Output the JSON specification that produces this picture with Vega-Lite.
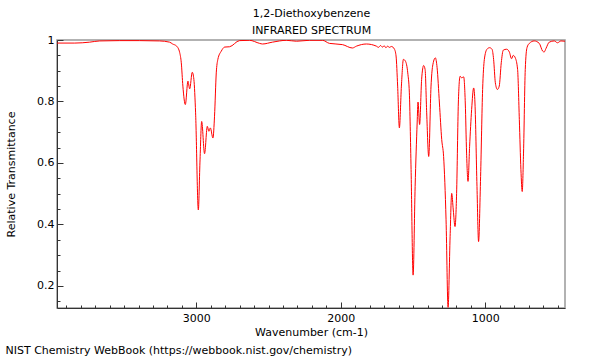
{
  "$schema": "https://vega.github.io/schema/vega-lite/v6.json",
  "width": 508,
  "height": 268,
  "autosize": {"type": "none"},
  "padding": {"left": 57, "top": 40, "right": 35, "bottom": 52},
  "background": "white",
  "title": {
    "text": "NIST Chemistry WebBook (https://webbook.nist.gov/chemistry)",
    "orient": "bottom",
    "anchor": "start",
    "frame": "bounds",
    "font": "DejaVu Sans",
    "fontSize": 11,
    "fontWeight": "normal",
    "color": "black",
    "offset": 8
  },
  "config": {
    "view": {"stroke": "#999999", "strokeWidth": 1.5},
    "axis": {"labelFont": "DejaVu Sans", "titleFont": "DejaVu Sans", "labelFontSize": 11, "titleFontSize": 11, "titleFontWeight": "normal", "labelColor": "black", "titleColor": "black", "grid": false, "domainColor": "#333333", "tickColor": "#333333"}
  },
  "data": {"values": [
    {"wn": 3964, "t": 0.990}, {"wn": 3841, "t": 0.990}, {"wn": 3738, "t": 0.993}, {"wn": 3668, "t": 0.997},
    {"wn": 3530, "t": 0.998}, {"wn": 3392, "t": 0.998}, {"wn": 3254, "t": 0.997}, {"wn": 3185, "t": 0.993},
    {"wn": 3164, "t": 0.987}, {"wn": 3136, "t": 0.980}, {"wn": 3115, "t": 0.959}, {"wn": 3104, "t": 0.926},
    {"wn": 3093, "t": 0.85}, {"wn": 3076, "t": 0.79}, {"wn": 3058, "t": 0.866}, {"wn": 3046, "t": 0.841},
    {"wn": 3028, "t": 0.895}, {"wn": 3017, "t": 0.872}, {"wn": 3005, "t": 0.763}, {"wn": 2986, "t": 0.447},
    {"wn": 2975, "t": 0.60}, {"wn": 2963, "t": 0.735}, {"wn": 2943, "t": 0.63}, {"wn": 2924, "t": 0.719},
    {"wn": 2913, "t": 0.703}, {"wn": 2903, "t": 0.714}, {"wn": 2885, "t": 0.681}, {"wn": 2874, "t": 0.752},
    {"wn": 2862, "t": 0.893}, {"wn": 2851, "t": 0.937}, {"wn": 2827, "t": 0.964}, {"wn": 2804, "t": 0.977},
    {"wn": 2770, "t": 0.978}, {"wn": 2701, "t": 0.998}, {"wn": 2632, "t": 0.999}, {"wn": 2562, "t": 0.989},
    {"wn": 2542, "t": 0.987}, {"wn": 2473, "t": 0.993}, {"wn": 2376, "t": 0.999}, {"wn": 2307, "t": 0.996},
    {"wn": 2217, "t": 0.999}, {"wn": 2127, "t": 0.999}, {"wn": 2079, "t": 0.989}, {"wn": 1989, "t": 0.985},
    {"wn": 1920, "t": 0.974}, {"wn": 1892, "t": 0.980}, {"wn": 1823, "t": 0.987}, {"wn": 1754, "t": 0.980},
    {"wn": 1740, "t": 0.976}, {"wn": 1725, "t": 0.982}, {"wn": 1712, "t": 0.977}, {"wn": 1700, "t": 0.981},
    {"wn": 1688, "t": 0.975}, {"wn": 1676, "t": 0.980}, {"wn": 1664, "t": 0.976}, {"wn": 1650, "t": 0.979},
    {"wn": 1629, "t": 0.970}, {"wn": 1618, "t": 0.948}, {"wn": 1607, "t": 0.85}, {"wn": 1595, "t": 0.714},
    {"wn": 1581, "t": 0.85}, {"wn": 1567, "t": 0.937}, {"wn": 1553, "t": 0.931}, {"wn": 1537, "t": 0.893},
    {"wn": 1526, "t": 0.828}, {"wn": 1514, "t": 0.579}, {"wn": 1500, "t": 0.235}, {"wn": 1486, "t": 0.523},
    {"wn": 1472, "t": 0.73}, {"wn": 1466, "t": 0.798}, {"wn": 1455, "t": 0.725}, {"wn": 1441, "t": 0.872},
    {"wn": 1427, "t": 0.917}, {"wn": 1417, "t": 0.904}, {"wn": 1406, "t": 0.763}, {"wn": 1392, "t": 0.621},
    {"wn": 1376, "t": 0.85}, {"wn": 1365, "t": 0.915}, {"wn": 1346, "t": 0.942}, {"wn": 1334, "t": 0.91},
    {"wn": 1318, "t": 0.795}, {"wn": 1302, "t": 0.676}, {"wn": 1289, "t": 0.621}, {"wn": 1272, "t": 0.415},
    {"wn": 1258, "t": 0.13}, {"wn": 1244, "t": 0.36}, {"wn": 1233, "t": 0.501}, {"wn": 1222, "t": 0.447},
    {"wn": 1210, "t": 0.393}, {"wn": 1199, "t": 0.501}, {"wn": 1187, "t": 0.795}, {"wn": 1175, "t": 0.882},
    {"wn": 1164, "t": 0.877}, {"wn": 1150, "t": 0.88}, {"wn": 1139, "t": 0.795}, {"wn": 1130, "t": 0.632},
    {"wn": 1120, "t": 0.54}, {"wn": 1109, "t": 0.654}, {"wn": 1095, "t": 0.774}, {"wn": 1081, "t": 0.844},
    {"wn": 1072, "t": 0.795}, {"wn": 1058, "t": 0.523}, {"wn": 1047, "t": 0.344}, {"wn": 1033, "t": 0.556},
    {"wn": 1019, "t": 0.839}, {"wn": 1007, "t": 0.937}, {"wn": 989, "t": 0.97}, {"wn": 971, "t": 0.975},
    {"wn": 954, "t": 0.97}, {"wn": 943, "t": 0.937}, {"wn": 931, "t": 0.861}, {"wn": 917, "t": 0.839},
    {"wn": 904, "t": 0.85}, {"wn": 890, "t": 0.926}, {"wn": 876, "t": 0.967}, {"wn": 853, "t": 0.97},
    {"wn": 834, "t": 0.961}, {"wn": 819, "t": 0.939}, {"wn": 807, "t": 0.95}, {"wn": 793, "t": 0.942},
    {"wn": 777, "t": 0.904}, {"wn": 765, "t": 0.741}, {"wn": 754, "t": 0.578}, {"wn": 745, "t": 0.507},
    {"wn": 736, "t": 0.632}, {"wn": 724, "t": 0.904}, {"wn": 712, "t": 0.975}, {"wn": 696, "t": 0.989},
    {"wn": 662, "t": 0.997}, {"wn": 627, "t": 0.989}, {"wn": 604, "t": 0.964}, {"wn": 593, "t": 0.961},
    {"wn": 581, "t": 0.972}, {"wn": 558, "t": 0.993}, {"wn": 523, "t": 0.997}, {"wn": 501, "t": 0.991},
    {"wn": 477, "t": 0.997}, {"wn": 449, "t": 0.996}
  ]},
  "layer": [
    {
      "mark": {"type": "line", "color": "#ff0000", "strokeWidth": 1, "interpolate": "monotone", "clip": true},
      "encoding": {
        "x": {
          "field": "wn", "type": "quantitative",
          "scale": {"domain": [449, 3964], "reverse": true, "nice": false, "zero": false},
          "axis": {
            "title": "Wavenumber (cm-1)",
            "values": [500, 600, 700, 800, 900, 1000, 1100, 1200, 1300, 1400, 1500, 1600, 1700, 1800, 1900, 2000, 2100, 2200, 2300, 2400, 2500, 2600, 2700, 2800, 2900, 3000, 3100, 3200, 3300, 3400, 3500, 3600, 3700, 3800, 3900],
            "labelExpr": "datum.value % 1000 === 0 ? datum.label : ''",
            "format": "d",
            "labelOverlap": false,
            "tickSize": {"condition": {"test": "datum.value % 1000 === 0", "value": -6}, "value": -3},
            "labelPadding": 10,
            "titlePadding": 0
          }
        },
        "y": {
          "field": "t", "type": "quantitative",
          "scale": {"domain": [0.128, 1.0], "nice": false, "zero": false},
          "axis": {
            "title": "Relative Transmittance",
            "values": [0.15, 0.2, 0.25, 0.3, 0.35, 0.4, 0.45, 0.5, 0.55, 0.6, 0.65, 0.7, 0.75, 0.8, 0.85, 0.9, 0.95, 1.0],
            "labelExpr": "(abs(datum.value*5 - round(datum.value*5)) < 0.001) ? format(datum.value, '~g') : ''",
            "labelOverlap": false,
            "tickSize": {"condition": {"test": "abs(datum.value*5 - round(datum.value*5)) < 0.001", "value": -6}, "value": -3},
            "labelPadding": 9,
            "titlePadding": 20
          }
        }
      }
    },
    {
      "mark": {"type": "rule", "strokeOpacity": 0},
      "encoding": {
        "x": {
          "field": "wn", "type": "quantitative",
          "axis": {
            "orient": "top",
            "title": ["1,2-Diethoxybenzene", "INFRARED SPECTRUM"],
            "domain": false, "ticks": false, "labels": false,
            "titlePadding": 5,
            "titleLineHeight": 17
          }
        }
      }
    }
  ],
  "resolve": {"axis": {"x": "independent"}}
}
